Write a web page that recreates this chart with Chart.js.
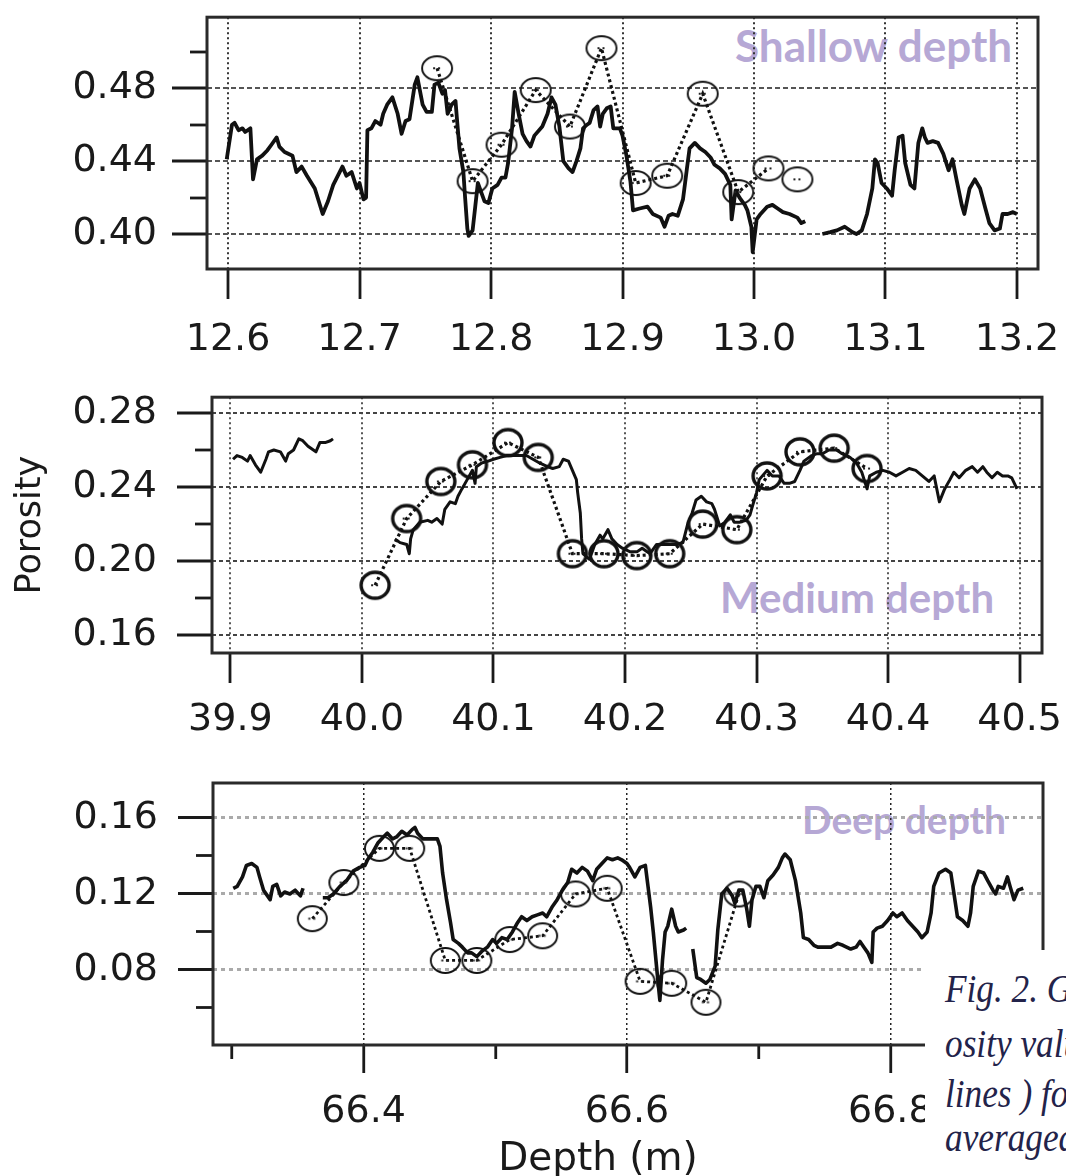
<!DOCTYPE html>
<html>
<head>
<meta charset="utf-8">
<script src="https://cdn.jsdelivr.net/npm/chart.js@4.4.0/dist/chart.umd.min.js"></script>
<style>
  html, body { margin: 0; padding: 0; background: #fff; }
  body { width: 1066px; height: 1176px; position: relative; overflow: hidden; }
  canvas { position: absolute; left: 0; }
  .tag { position: absolute; font-family: Lato, "Open Sans", sans-serif; font-weight: 700; color: #b6a8d5; white-space: nowrap; line-height: 1; }
  #xtitle { position: absolute; left: 0; width: 1196px; top: 1137px; text-align: center; font-family: "DejaVu Sans", sans-serif; font-size: 39px; line-height: 1; color: #1a1a1a; }
  #caption { position: absolute; left: 925px; top: 950px; width: 141px; height: 226px; background: #fff; overflow: hidden; z-index: 5; }
  #caption div { position: absolute; left: 20px; font-family: "Liberation Serif", serif; font-style: italic; font-size: 41px; line-height: 1; color: #23234a; white-space: nowrap; transform: scaleX(0.86); transform-origin: left top; }
</style>
</head>
<body>
<div class="tag" style="left:735px; top:23px; font-size:44px;">Shallow depth</div>
<div class="tag" style="left:720px; top:576px; font-size:42px;">Medium depth</div>
<div class="tag" style="left:802px; top:800px; font-size:39px;">Deep depth</div>

<canvas id="shallow" width="1066" height="380" style="top:0px"></canvas>
<canvas id="medium" width="1066" height="380" style="top:380px"></canvas>
<canvas id="deep" width="1066" height="416" style="top:760px"></canvas>

<div id="xtitle">Depth (m)</div>
<div id="caption">
  <div style="top:18px">Fig. 2. Gr</div>
  <div style="top:73px">osity valu</div>
  <div style="top:123px">lines ) for</div>
  <div style="top:167px">averaged</div>
</div>

<script>
// ---- shallow depth (12.6 - 13.2 m) ----
var shallowDepth = [12.599,12.603,12.605,12.608,12.611,12.613,12.617,12.619,12.622,12.626,
  12.630,12.633,12.637,12.639,12.643,12.649,12.652,12.656,12.660,12.666,
  12.672,12.676,12.680,12.687,12.690,12.694,12.698,12.700,12.703,12.705,
  12.706,12.709,12.712,12.716,12.718,12.721,12.725,12.729,12.732,12.735,
  12.738,12.742,12.744,12.748,12.751,12.755,12.757,12.760,12.763,12.765,
  12.767,12.770,12.773,12.774,12.776,12.779,12.780,12.782,12.783,12.786,
  12.788,12.790,12.793,12.795,12.798,12.801,12.805,12.808,12.811,12.813,
  12.816,12.818,12.821,12.824,12.827,12.830,12.833,12.839,12.843,12.846,
  12.849,12.852,12.855,12.859,12.862,12.865,12.868,12.870,12.873,12.875,
  12.878,12.881,12.883,12.885,12.888,12.891,12.893,12.898,12.900,12.903,
  12.906,12.908,12.913,12.919,12.923,12.929,12.932,12.935,12.938,12.942,
  12.946,12.949,12.951,12.955,12.959,12.963,12.967,12.970,12.974,12.978,
  12.982,12.983,12.986,12.989,12.993,12.995,12.998,12.999,13.002,13.005,
  13.010,13.014,13.018,13.022,13.027,13.033,13.036,13.039,13.045,
  13.052,13.058,13.063,13.069,13.075,13.078,13.082,13.086,13.090,13.092,
  13.094,13.097,13.101,13.105,13.107,13.110,13.113,13.115,13.119,13.122,
  13.125,13.128,13.130,13.132,13.136,13.140,13.144,13.148,13.151,13.154,
  13.158,13.160,13.164,13.168,13.172,13.176,13.179,13.183,13.187,13.189,
  13.193,13.197,13.200];
var shallowPorosity = [.441,.460,.461,.457,.458,.456,.458,.430,.441,.443,
  .446,.449,.453,.448,.445,.443,.434,.437,.432,.425,
  .411,.418,.427,.437,.432,.434,.425,.428,.419,.420,
  .457,.458,.462,.460,.466,.471,.475,.466,.455,.462,
  .463,.482,.486,.471,.467,.467,.482,.483,.477,.479,
  .466,.471,.473,.464,.447,.434,.423,.403,.399,.402,
  .415,.428,.422,.418,.417,.425,.427,.431,.431,.439,
  .458,.478,.466,.455,.451,.448,.454,.459,.466,.475,
  .471,.459,.440,.436,.434,.440,.447,.458,.460,.461,
  .468,.470,.459,.466,.469,.470,.458,.458,.454,.443,
  .429,.413,.414,.415,.411,.409,.404,.410,.411,.410,
  .419,.436,.447,.450,.447,.445,.442,.438,.436,.433,
  .427,.408,.424,.420,.416,.413,.404,.390,.408,.411,
  .415,.416,.414,.412,.411,.409,.406,.407,null,
  .400,.401,.402,.404,.401,.400,.402,.411,.425,.441,
  .439,.428,.425,.421,.435,.453,.454,.439,.427,.425,
  .450,.458,.453,.450,.451,.450,.444,.435,.441,.430,
  .416,.411,.425,.430,.425,.414,.406,.402,.403,.411,
  .411,.412,.411];
var shallowAvgDepth = [12.759,12.786,12.808,12.834,12.860,12.884,12.910,12.934,12.961,12.988,13.011,13.022,13.033];
var shallowAvgPorosity = [.491,.429,.449,.479,.459,.502,.428,.432,.477,.423,.436,null,.430];
var shallowXTicks = [12.6,12.7,12.8,12.9,13.0,13.1,13.2];
var shallowYTicks = [0.40,0.42,0.44,0.46,0.48,0.50];
var shallowYLabels = [0.40,0.44,0.48];

// ---- medium depth (39.9 - 40.5 m) ----
var mediumDepth = [39.902,39.905,39.909,39.913,39.915,39.919,39.923,39.927,39.929,39.933,
  39.938,39.942,39.944,39.948,39.952,39.955,39.959,39.965,39.968,39.972,39.976,39.978,40.000,
  40.025,40.029,40.034,40.036,40.037,40.039,40.044,40.050,40.053,40.057,
  40.061,40.063,40.067,40.071,40.073,40.076,40.080,40.084,40.086,40.087,
  40.091,40.096,40.100,40.105,40.110,40.115,40.120,40.125,40.130,40.135,
  40.141,40.145,40.150,40.153,40.157,40.160,40.163,40.164,40.166,40.167,
  40.168,40.173,40.177,40.181,40.183,40.187,40.190,40.194,40.198,40.204,
  40.209,40.213,40.219,40.224,40.229,40.234,40.239,40.244,40.248,40.251,
  40.254,40.258,40.262,40.266,40.268,40.272,40.276,40.280,40.283,40.287,
  40.292,40.295,40.297,40.300,40.302,40.308,40.312,40.317,40.321,40.325,
  40.329,40.333,40.336,40.342,40.346,40.350,40.355,40.361,40.365,40.371,
  40.376,40.380,40.384,40.386,40.391,40.396,40.401,40.406,40.411,40.416,
  40.421,40.426,40.431,40.435,40.439,40.443,40.447,40.450,40.454,40.459,
  40.464,40.468,40.472,40.475,40.479,40.483,40.487,40.491,40.494,40.498];
var mediumPorosity = [.255,.257,.256,.254,.257,.252,.248,.255,.259,.260,
  .259,.254,.258,.260,.266,.265,.262,.259,.264,.264,.265,.266,null,
  .212,.210,.209,.204,.212,.217,.221,.222,.221,.223,
  .220,.228,.232,.231,.235,.239,.244,.249,.242,.251,
  .253,.254,.255,.256,.257,.257,.257,.257,.255,.253,
  .251,.250,.251,.255,.254,.249,.244,.237,.226,.212,
  .204,.201,.209,.214,.212,.217,.212,.209,.207,.205,
  .205,.207,.204,.209,.209,.209,.209,.210,.221,.226,
  .233,.235,.232,.231,.228,.219,.221,.225,.221,.221,
  .222,.225,.230,.237,.244,.249,.246,.246,.242,.242,
  .243,.249,.254,.257,.258,.258,.260,.260,.258,.256,
  .253,.248,.239,.246,.248,.249,.248,.246,.248,.250,
  .249,.246,.243,.246,.232,.239,.244,.248,.245,.249,
  .251,.248,.251,.248,.245,.248,.246,.246,.245,.239];
var mediumAvgDepth = [40.010,40.034,40.060,40.084,40.111,40.134,40.160,40.184,40.209,40.234,40.259,40.285,40.308,40.333,40.359,40.384];
var mediumAvgPorosity = [.187,.223,.243,.252,.264,.256,.204,.204,.203,.204,.220,.217,.246,.259,.261,.250];
var mediumXTicks = [39.9,40.0,40.1,40.2,40.3,40.4,40.5];
var mediumYTicks = [0.16,0.18,0.20,0.22,0.24,0.26,0.28];
var mediumYLabels = [0.16,0.20,0.24,0.28];

// ---- deep depth (66.3 - 66.9 m) ----
var deepDepth = [66.301,66.304,66.308,66.311,66.315,66.319,66.321,66.324,66.327,66.329,
  66.331,66.334,66.337,66.340,66.344,66.348,66.352,66.354,66.360,
  66.369,66.373,66.377,66.382,66.387,66.392,66.397,66.401,66.403,66.407,
  66.411,66.415,66.418,66.422,66.425,66.429,66.433,66.437,66.439,66.441,
  66.445,66.450,66.456,66.458,66.460,66.463,66.466,66.468,66.472,66.475,
  66.479,66.482,66.486,66.490,66.494,66.498,66.501,66.505,66.509,66.513,
  66.517,66.520,66.524,66.528,66.532,66.536,66.539,66.543,66.547,66.551,
  66.555,66.558,66.562,66.566,66.570,66.574,66.577,66.581,66.585,66.589,
  66.593,66.596,66.600,66.602,66.606,66.610,66.614,66.618,66.620,66.623,
  66.625,66.627,66.629,66.631,66.634,66.637,66.639,66.643,66.645,66.648,
  66.650,66.653,66.656,66.660,66.663,66.667,66.669,66.672,66.676,66.680,
  66.682,66.685,66.688,66.691,66.693,66.695,66.698,66.701,66.704,66.707,
  66.711,66.715,66.718,66.720,66.724,66.728,66.732,66.734,66.738,66.742,
  66.745,66.751,66.755,66.760,66.764,66.770,66.774,66.777,66.780,66.783,
  66.786,66.787,66.790,66.794,66.798,66.802,66.805,66.809,66.813,66.817,
  66.821,66.824,66.828,66.831,66.833,66.837,66.842,66.846,66.848,66.851,
  66.855,66.859,66.861,66.863,66.867,66.871,66.874,66.878,66.880,66.882,
  66.886,66.889,66.891,66.894,66.897,66.901];
var deepPorosity = [.123,.124,.129,.135,.136,.134,.129,.122,.119,.117,
  .124,.125,.119,.121,.120,.122,.119,.123,null,
  .118,.118,.120,.124,.127,.132,.134,.135,.138,.142,
  .147,.150,.152,.149,.150,.153,.151,.154,.155,.152,
  .149,.149,.149,.145,.131,.117,.105,.096,.094,.092,
  .089,.089,.087,.090,.092,.096,.094,.097,.096,.100,
  .105,.108,.106,.108,.109,.110,.108,.113,.117,.122,
  .126,.133,.131,.134,.132,.127,.133,.136,.139,.138,
  .139,.138,.136,.134,.129,.134,.135,.113,.100,.078,
  .064,.085,.100,.103,.112,.103,.100,.101,.102,null,
  .091,.076,.075,.073,.075,.082,.101,.120,.123,.119,
  .115,.122,.122,.112,.103,.117,.124,.124,.118,.127,
  .130,.134,.139,.141,.138,.127,.110,.097,.096,.093,
  .092,.092,.092,.094,.093,.091,.092,.095,.092,.089,
  .084,.100,.102,.103,.106,.110,.108,.110,.106,.103,
  .100,.097,.100,.110,.124,.131,.133,.131,.122,.108,
  .106,.103,.110,.124,.132,.131,.127,.122,.120,.124,
  .123,.129,.124,.117,.122,.123];
var deepAvgDepth = [66.361,66.385,66.412,66.435,66.462,66.486,66.511,66.536,66.561,66.585,66.610,66.634,66.660,66.685];
var deepAvgPorosity = [.107,.126,.144,.144,.085,.085,.096,.098,.120,.123,.074,.073,.063,.120];
var deepXTicks = [66.3,66.4,66.5,66.6,66.7,66.8,66.9];
var deepXLabels = [66.4,66.6,66.8];
var deepYTicks = [0.06,0.08,0.10,0.12,0.14,0.16];
var deepYLabels = [0.08,0.12,0.16];

function near(v, list) {
  return list.some(function (m) { return Math.abs(m - v) < 1e-6; });
}
function zip(xs, ys) {
  var out = [];
  for (var i = 0; i < Math.min(xs.length, ys.length); i++) out.push({x: xs[i], y: ys[i]});
  return out;
}

// open ellipse marker with the little dots inside, like the original
function ring(w, h, lw) {
  var c = document.createElement('canvas');
  c.width = Math.ceil(w + lw + 4);
  c.height = Math.ceil(h + lw + 4);
  var g = c.getContext('2d');
  var cx = c.width / 2, cy = c.height / 2;
  g.lineWidth = lw;
  g.strokeStyle = '#111';
  g.beginPath();
  g.ellipse(cx, cy, w / 2, h / 2, 0, 0, Math.PI * 2);
  g.stroke();
  g.fillStyle = '#222';
  g.fillRect(cx - 4, cy - 1, 2, 2);
  g.fillRect(cx + 1, cy - 1, 2, 2);
  return c;
}

var frame = {
  id: 'frame',
  afterDraw: function (chart) {
    var a = chart.chartArea, ctx = chart.ctx;
    ctx.save();
    ctx.lineWidth = 3;
    ctx.strokeStyle = '#2a2a2a';
    ctx.strokeRect(a.left, a.top, a.right - a.left, a.bottom - a.top);
    ctx.restore();
  }
};

var tickFont = {family: 'DejaVu Sans', size: 38};
var clear = 'rgba(0,0,0,0)';

function panel(id, o) {
  var yMinor = function (c) { return c.tick && !near(c.tick.value, o.yLabels); };
  var xMinor = function (c) { return c.tick && !near(c.tick.value, o.xLabels); };
  return new Chart(document.getElementById(id), {
    type: 'line',
    data: {
      datasets: [{
        data: zip(o.avgDepth, o.avgPorosity),
        borderColor: '#111',
        borderWidth: o.dotWidth,
        borderDash: [3, 3],
        pointStyle: o.marker,
        pointRadius: 14,
        spanGaps: false,
        tension: 0
      }, {
        data: zip(o.depth, o.porosity),
        borderColor: '#111',
        borderWidth: o.lineWidth,
        borderJoinStyle: 'round',
        pointRadius: 0,
        spanGaps: false,
        tension: 0
      }]
    },
    options: {
      responsive: false,
      animation: false,
      events: [],
      devicePixelRatio: 1,
      layout: {padding: {left: 0, top: o.padTop, right: o.padRight, bottom: 0}},
      plugins: {legend: {display: false}, tooltip: {enabled: false}},
      scales: {
        x: {
          type: 'linear', min: o.xMin, max: o.xMax,
          afterBuildTicks: function (s) { s.ticks = o.xTicks.map(function (v) { return {value: v}; }); },
          afterFit: function (s) { s.height = o.xAxisH; s.paddingLeft = 0; s.paddingRight = 0; },
          ticks: {
            autoSkip: false, maxRotation: 0, minRotation: 0, padding: o.xPad,
            color: '#1a1a1a', font: tickFont,
            callback: function (v) { return near(v, o.xLabels) ? v.toFixed(1) : ''; }
          },
          grid: {
            color: function (c) { return c.tick && near(c.tick.value, o.xLabels) ? o.vColor : clear; },
            lineWidth: o.vWidth,
            tickLength: o.xTickLen, tickWidth: 2.8, tickColor: '#1a1a1a',
            tickBorderDash: function (c) { return xMinor(c) ? [o.xTickLen / 2, 300] : []; }
          },
          border: {display: false, dash: o.vDash}
        },
        y: {
          min: o.yMin, max: o.yMax,
          afterBuildTicks: function (s) { s.ticks = o.yTicks.map(function (v) { return {value: v}; }); },
          afterFit: function (s) { s.width = o.yAxisW; s.paddingTop = 0; s.paddingBottom = 0; },
          ticks: {
            autoSkip: false, padding: o.yPad, color: '#1a1a1a', font: tickFont,
            callback: function (v) { return near(v, o.yLabels) ? v.toFixed(2) : ''; }
          },
          grid: {
            color: function (c) { return c.tick && near(c.tick.value, o.yLabels) ? o.hColor : clear; },
            lineWidth: o.hWidth,
            tickLength: 35, tickWidth: 2.8, tickColor: '#1a1a1a',
            tickBorderDash: function (c) { return yMinor(c) ? [17, 18] : []; },
            tickBorderDashOffset: function (c) { return yMinor(c) ? 17 : 0; }
          },
          border: {display: false, dash: o.hDash},
          title: o.yTitle ? {
            display: true, text: o.yTitle, color: '#1a1a1a',
            font: {family: 'DejaVu Sans', size: 35}, padding: {top: 10, bottom: 0}
          } : {display: false}
        }
      }
    },
    plugins: [frame]
  });
}

panel('shallow', {
  depth: shallowDepth, porosity: shallowPorosity,
  avgDepth: shallowAvgDepth, avgPorosity: shallowAvgPorosity,
  marker: ring(30, 24, 1.9), dotWidth: 3.2, lineWidth: 3.8,
  xMin: 12.584, xMax: 13.216, yMin: 0.3808, yMax: 0.519,
  xTicks: shallowXTicks, xLabels: shallowXTicks,
  yTicks: shallowYTicks, yLabels: shallowYLabels,
  padTop: 10, padRight: 28, yAxisW: 207, xAxisH: 111, xTickLen: 30, xPad: 18, yPad: 15,
  vColor: '#333', vWidth: 2, vDash: [2, 3],
  hColor: '#555', hWidth: 2, hDash: [5, 3]
});

panel('medium', {
  depth: mediumDepth, porosity: mediumPorosity,
  avgDepth: mediumAvgDepth, avgPorosity: mediumAvgPorosity,
  marker: ring(28, 26, 3.4), dotWidth: 3.2, lineWidth: 3,
  xMin: 39.886, xMax: 40.517, yMin: 0.1504, yMax: 0.2885,
  xTicks: mediumXTicks, xLabels: mediumXTicks,
  yTicks: mediumYTicks, yLabels: mediumYLabels,
  padTop: 13, padRight: 24, yAxisW: 212, xAxisH: 107, xTickLen: 30, xPad: 14, yPad: 20,
  vColor: '#555', vWidth: 2, vDash: [2, 3],
  hColor: '#444', hWidth: 2, hDash: [4, 3],
  yTitle: 'Porosity'
});

panel('deep', {
  depth: deepDepth, porosity: deepPorosity,
  avgDepth: deepAvgDepth, avgPorosity: deepAvgPorosity,
  marker: ring(29, 25, 1.9), dotWidth: 2.8, lineWidth: 3.6,
  xMin: 66.2856, xMax: 66.916, yMin: 0.0405, yMax: 0.1784,
  xTicks: deepXTicks, xLabels: deepXLabels,
  yTicks: deepYTicks, yLabels: deepYLabels,
  padTop: 23, padRight: 23, yAxisW: 213, xAxisH: 131, xTickLen: 28, xPad: 16, yPad: 20,
  vColor: '#222', vWidth: 1.5, vDash: [2, 3],
  hColor: '#aaa', hWidth: 3, hDash: [4, 4]
});
</script>
</body>
</html>
